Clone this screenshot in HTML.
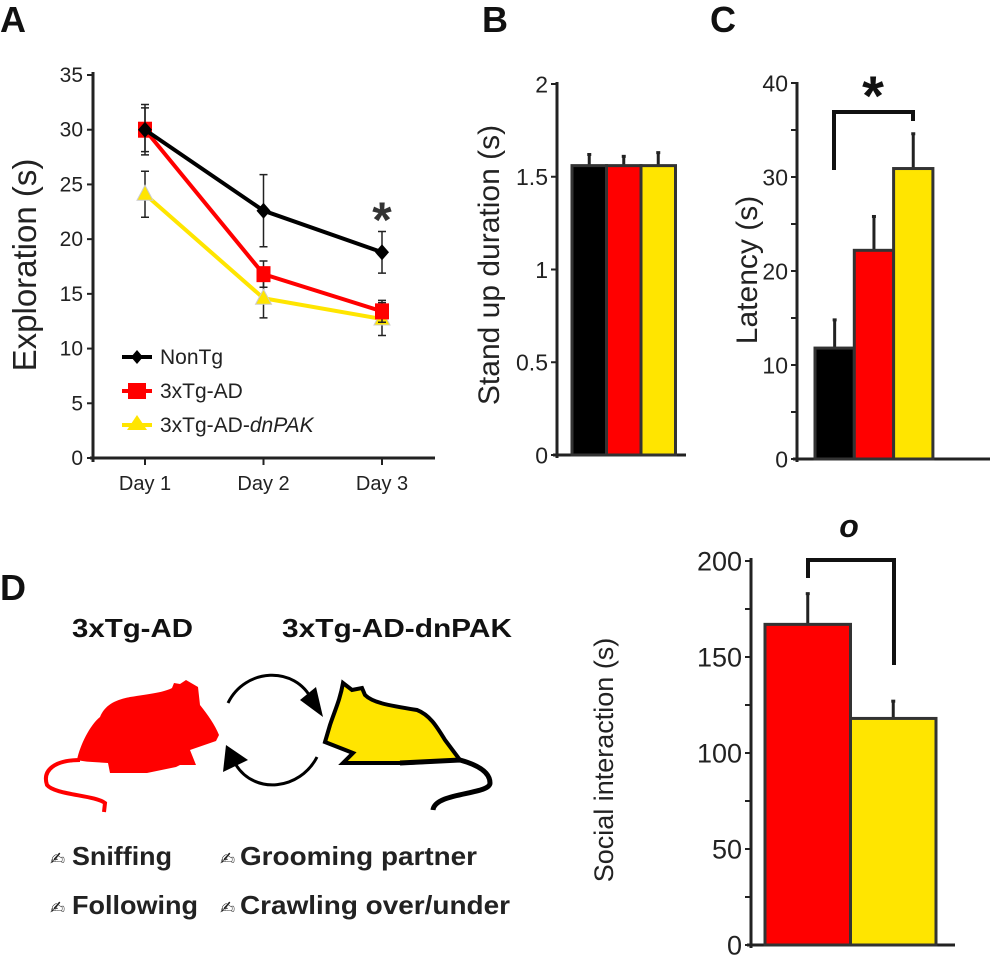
<!DOCTYPE html>
<html><head><meta charset="utf-8"><style>
body{margin:0;background:#fff}
svg{display:block;font-family:"Liberation Sans",Arial,sans-serif}
</style></head><body>
<svg id="fig" width="990" height="967" viewBox="0 0 990 967">
<g id="A"></g>
<g id="B"></g>
<g id="C"></g>
<g id="E"></g>
<g font-weight="bold" font-size="36" fill="#111">
<text x="0" y="32">A</text>
<text x="482" y="32">B</text>
<text x="710" y="32">C</text>
<text x="0" y="600">D</text>
</g>
<g>
<text x="72" y="637" font-size="26" font-weight="bold" fill="#111" textLength="121" lengthAdjust="spacingAndGlyphs">3xTg-AD</text>
<text x="282" y="637" font-size="26" font-weight="bold" fill="#111" textLength="230" lengthAdjust="spacingAndGlyphs">3xTg-AD-dnPAK</text>
<path fill="#f00" d="M100,717 C105,705 115,700 130,697 C150,694 165,692 172,688 L174,683 L180,684 L186,680 L198,687 L200,705 C208,715 215,725 219,735 L216,741 L190,750 L196,765 L180,765 L176,767 L147,773 L110,773 L108,763 C95,762 85,762 77,760 C80,745 90,725 100,717Z"/>
<path fill="none" stroke="#f00" stroke-width="4" d="M80,760 C55,760 42,770 47,785 C55,795 95,795 105,803 L104,812"/>
<path fill="#ffe500" stroke="#000" stroke-width="4" d="M325,742 L330,725 C335,710 340,700 343,683 L352,690 L362,688 L365,695 C372,702 385,705 417,710 C430,715 437,727 445,740 L460,760 L407,763 L375,763 L343,763 L353,753 L325,742Z"/>
<path fill="none" stroke="#000" stroke-width="5" d="M400,763 L460,760 C478,765 490,772 490,783 C490,795 435,792 433,810"/>
<path fill="none" stroke="#000" stroke-width="3" d="M228,703 C245,668 295,665 312,700"/>
<polygon points="300,700 323,717 316,687" fill="#000"/>
<path fill="none" stroke="#000" stroke-width="3" d="M317,757 C300,790 255,795 236,765"/>
<polygon points="223,772 226,745 248,760" fill="#000"/>
<g font-size="26" font-weight="bold" fill="#222">
<text x="50" y="865" font-size="18" font-family="DejaVu Sans">✍</text>
<text x="72" y="865" textLength="100" lengthAdjust="spacingAndGlyphs">Sniffing</text>
<text x="50" y="914" font-size="18" font-family="DejaVu Sans">✍</text>
<text x="72" y="914" textLength="126" lengthAdjust="spacingAndGlyphs">Following</text>
<text x="220" y="865" font-size="18" font-family="DejaVu Sans">✍</text>
<text x="240" y="865" textLength="237" lengthAdjust="spacingAndGlyphs">Grooming partner</text>
<text x="220" y="914" font-size="18" font-family="DejaVu Sans">✍</text>
<text x="240" y="914" textLength="270" lengthAdjust="spacingAndGlyphs">Crawling over/under</text>
</g>
</g>
</svg>
<script>
// Panel A data
const days = ["Day 1","Day 2","Day 3"];
const groups = ["NonTg","3xTg-AD","3xTg-AD-dnPAK"];
const nonTg = [30, 22.6, 18.8];
const nonTgErr = [2.3, 3.3, 1.9];
const tgAD = [30, 16.8, 13.4];
const tgADErr = [2.0, 1.2, 1.0];
const dnPAK = [24.1, 14.6, 12.7];
const dnPAKErr = [2.1, 1.8, 1.5];
const aTicks = [0,5,10,15,20,25,30,35];
// Panel B
const standUp = [1.56, 1.56, 1.56];
const standUpErr = [0.06, 0.05, 0.07];
const bTicks = ["0","0.5","1","1.5","2"];
// Panel C
const latency = [11.8, 22.2, 30.9];
const latencyErr = [3.0, 3.6, 3.7];
const cTicks = [0,10,20,30,40];
// Panel D
const social = [167, 118];
const socialErr = [16, 9];
const dTicks = [0,50,100,150,200];

const NS="http://www.w3.org/2000/svg";
function mk(p,t,a){const e=document.createElementNS(NS,t);for(const k in a)e.setAttribute(k,a[k]);p.appendChild(e);return e;}
const colors=["#000","#f00","#ffe500"];
const AX="#222";

// ---------- Panel A
const A=document.getElementById('A');
const ay=v=>458-v*(383/35);
const ax=i=>145+i*118.5;
let e=mk(A,'line',{x1:93,y1:72,x2:93,y2:462,stroke:AX,'stroke-width':3});

e=mk(A,'line',{x1:90,y1:458,x2:435,y2:458,stroke:AX,'stroke-width':3});

aTicks.forEach(t=>{
 let l=mk(A,'line',{x1:87,y1:ay(t),x2:93,y2:ay(t),stroke:AX,'stroke-width':2});
 
 let tx=mk(A,'text',{x:83,y:ay(t)+7,'text-anchor':'end','font-size':21,fill:'#222'});tx.textContent=t;
 
});
days.forEach((d,i)=>{
 let l=mk(A,'line',{x1:ax(i),y1:458,x2:ax(i),y2:465,stroke:AX,'stroke-width':2});
 
 let tx=mk(A,'text',{x:ax(i),y:490,'text-anchor':'middle','font-size':20,fill:'#222'});tx.textContent=d;
 
});
e=mk(A,'text',{x:0,y:0,transform:'translate(36,265) rotate(-90)','text-anchor':'middle','font-size':33,fill:'#222'});
e.textContent='Exploration (s)';
const series=[[nonTg,nonTgErr],[tgAD,tgADErr],[dnPAK,dnPAKErr]];
[2,1,0].forEach(s=>{
 const [v,er]=series[s];
 let pl=mk(A,'polyline',{points:v.map((y,i)=>ax(i)+','+ay(y)).join(' '),fill:'none',stroke:colors[s],'stroke-width':4});
 
 v.forEach((y,i)=>{
  let b=mk(A,'path',{d:`M${ax(i)-4},${ay(y+er[i])}h8M${ax(i)},${ay(y+er[i])}V${ay(y-er[i])}M${ax(i)-4},${ay(y-er[i])}h8`,stroke:'#222','stroke-width':1.5,fill:'none'});
  
  let m;
  if(s===0)m=mk(A,'polygon',{points:`${ax(i)},${ay(y)-8} ${ax(i)+7},${ay(y)} ${ax(i)},${ay(y)+8} ${ax(i)-7},${ay(y)}`,fill:'#000'});
  else if(s===1)m=mk(A,'rect',{x:ax(i)-7,y:ay(y)-8,width:14,height:16,fill:'#f00'});
  else m=mk(A,'polygon',{points:`${ax(i)},${ay(y)-9} ${ax(i)+8},${ay(y)+6} ${ax(i)-8},${ay(y)+6}`,fill:'#ffe500',stroke:'#ccc','stroke-width':1});
  
 });
});
e=mk(A,'text',{x:382,y:237,'text-anchor':'middle','font-size':50,'font-weight':'bold',fill:'#333'});e.textContent='*';

groups.forEach((g,i)=>{
 const y=357+i*34;
 let l=mk(A,'line',{x1:122,y1:y,x2:152,y2:y,stroke:colors[i],'stroke-width':4});
 
 let m;
 if(i===0)m=mk(A,'polygon',{points:`137,${y-7} 143,${y} 137,${y+7} 131,${y}`,fill:'#000'});
 else if(i===1)m=mk(A,'rect',{x:128,y:y-8,width:18,height:16,fill:'#f00'});
 else m=mk(A,'polygon',{points:`137,${y-10} 147,${y+5} 127,${y+5}`,fill:'#ffe500'});
 
 let t=mk(A,'text',{x:160,y:y+7,'font-size':21,fill:'#222'});
 if(i===2){t.innerHTML='3xTg-AD-<tspan font-style="italic">dnPAK</tspan>';}else t.textContent=g;
 
});

// ---------- Bar helper
function barPanel(P,pre,cfg){
 const y=v=>cfg.y0-v*cfg.k;
 let a=mk(P,'line',{x1:cfg.ax,y1:cfg.top,x2:cfg.ax,y2:cfg.y0+3,stroke:AX,'stroke-width':3});
 
 a=mk(P,'line',{x1:cfg.ax-4,y1:cfg.y0,x2:cfg.xend,y2:cfg.y0,stroke:AX,'stroke-width':3});
 
 cfg.minor.forEach(t=>{let l=mk(P,'line',{x1:cfg.ax-6,y1:y(t),x2:cfg.ax,y2:y(t),stroke:AX,'stroke-width':2});
  });
 cfg.ticks.forEach(t=>{let tx=mk(P,'text',{x:cfg.ax-9,y:y(+t)+cfg.fs*0.36,'text-anchor':'end','font-size':cfg.fs,fill:'#222'});tx.textContent=t;
  });
 cfg.vals.forEach((v,i)=>{
  const x=cfg.bx+i*cfg.bw, cx=x+cfg.bw/2;
  let eb=mk(P,'line',{x1:cx,y1:y(v),x2:cx,y2:y(v+cfg.err[i]),stroke:'#222','stroke-width':3});
  
  let cap=mk(P,'line',{x1:cx-2,y1:y(v+cfg.err[i]),x2:cx+2,y2:y(v+cfg.err[i]),stroke:'#222','stroke-width':3});
  
  let r=mk(P,'rect',{x:x,y:y(v),width:cfg.bw,height:cfg.y0-y(v),fill:cfg.cols[i],stroke:'#333','stroke-width':3});
  
 });
 let t=mk(P,'text',{x:0,y:0,transform:`translate(${cfg.tx},${cfg.ty}) rotate(-90)`,'text-anchor':'middle','font-size':cfg.tfs,fill:'#222'});
 t.textContent=cfg.title;
 return y;
}
barPanel(document.getElementById('B'),'b',{ax:557,y0:455,k:371/2,top:82,xend:686,minor:[0,0.5,1,1.5,2],ticks:bTicks,fs:23,
 vals:standUp,err:standUpErr,bx:572,bw:34.5,cols:colors,tx:499,ty:265,tfs:30,title:'Stand up duration (s)'});
const C=document.getElementById('C');
const cy=barPanel(C,'c',{ax:797,y0:459,k:376/40,top:82,xend:990,minor:[0,5,10,15,20,25,30,35,40],ticks:cTicks,fs:23,
 vals:latency,err:latencyErr,bx:815,bw:39.3,cols:colors,tx:757,ty:270,tfs:30,title:'Latency (s)'});
e=mk(C,'path',{d:'M834,170V112H913V121',fill:'none',stroke:'#111','stroke-width':4});

e=mk(C,'text',{x:873,y:115,'text-anchor':'middle','font-size':56,'font-weight':'bold',fill:'#111'});e.textContent='*';

const E=document.getElementById('E');
barPanel(E,'d',{ax:751,y0:945,k:384/200,top:558,xend:955,minor:[0,25,50,75,100,125,150,175,200],ticks:dTicks,fs:27,
 vals:social,err:socialErr,bx:765,bw:85.5,cols:["#f00","#ffe500"],tx:613,ty:760,tfs:27,title:'Social interaction (s)'});
e=mk(E,'path',{d:'M808,578V560H894V665',fill:'none',stroke:'#111','stroke-width':4});

e=mk(E,'text',{x:849,y:537,'text-anchor':'middle','font-size':32,'font-weight':'bold','font-style':'italic',fill:'#111'});e.textContent='o';

</script>
</body></html>
